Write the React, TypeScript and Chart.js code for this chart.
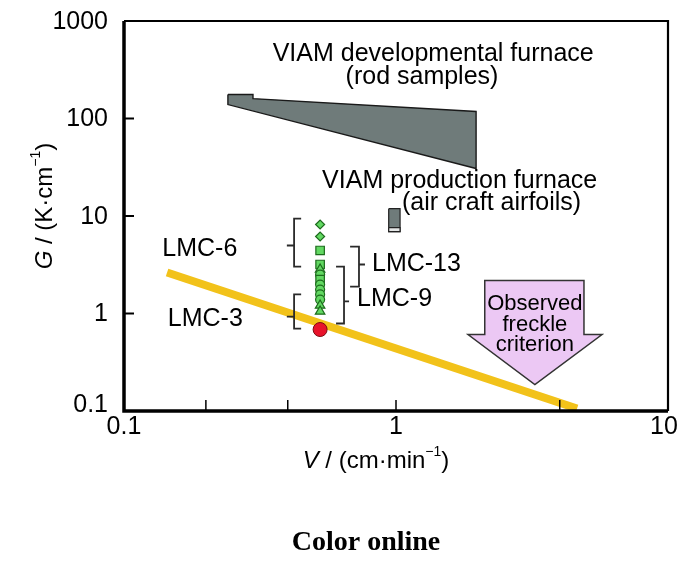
import React, { useEffect, useRef } from "react";
import { Chart, registerables } from "chart.js";
Chart.register(...registerables);

// ---- axis ticks ----
const xTickValues = [0.1, 1, 10];
const xTickLabels = ["0.1", "1", "10"];
const xMinorTicks = [0.2, 0.4, 1, 4];
const yTickValues = [0.1, 1, 10, 100, 1000];
const yTickLabels = ["0.1", "1", "10", "100", "1000"];
const yInnerTicks = [1, 10, 100];

// ---- observed freckle criterion line ----
const criterionV = [0.144, 4.63];
const criterionG = [2.63, 0.106];

// ---- VIAM developmental furnace (rod samples) region ----
const devFurnaceV = [0.241, 0.298, 0.298, 1.97, 1.97, 0.241, 0.241];
const devFurnaceG = [176, 176, 160, 118, 30.7, 139, 176];

// ---- VIAM production furnace (air craft airfoils) region ----
const prodFurnaceV = [0.94, 1.035, 1.035, 0.94, 0.94];
const prodFurnaceG = [11.9, 11.9, 6.9, 6.9, 11.9];
const prodFurnaceLightG = [7.6, 7.6, 6.9, 6.9, 7.6];

// ---- alloy data points ----
const alloyV = 0.526;
const lmcG = [8.18, 6.16, 4.43, 3.18, 2.83, 2.51, 2.23, 1.98, 1.76, 1.57, 1.39, 1.21, 1.05];
const lmcShapes = ["rectRot", "rectRot", "rect", "rect", "triangle", "circle", "rect", "circle", "circle", "circle", "circle", "triangle", "triangle"];
const lmcSizes = [4.5, 4.5, 6, 6, 5.5, 4.5, 6, 4.5, 4.5, 4.5, 4.5, 5.5, 5.5];
const lmc3G = [0.685];

// ---- brackets ----
const bracketLabels = ["LMC-6", "LMC-3", "LMC-13", "LMC-9"];
const bracketEdgeV = [0.448, 0.448, 0.678, 0.602];
const bracketSpineV = [0.422, 0.422, 0.731, 0.644];
const bracketTipV = [0.397, 0.397, 0.769, 0.672];
const bracketLowG = [3.03, 0.70, 1.89, 0.79];
const bracketHighG = [9.42, 1.57, 4.86, 3.03];
const bracketMidG = [4.98, 0.93, 3.18, 1.33];
const bracketLabelV = [0.19, 0.199, 0.816, 0.719];
const bracketLabelG = [4.53, 0.87, 3.18, 1.39];

// ---- arrow (observed freckle criterion) ----
const arrowBodyV = [2.12, 4.91];
const arrowTopG = 2.18;
const arrowShoulderG = 0.609;
const arrowHeadV = [1.84, 5.72];
const arrowTip = [3.24, 0.187];
const arrowText = ["Observed", "freckle", "criterion"];
const arrowTextG = [1.24, 0.771, 0.48];

const SANS = '"Liberation Sans", Arial, sans-serif';

type Part = { t: string; it?: boolean; sup?: boolean };

function drawRich(ctx: CanvasRenderingContext2D, parts: Part[], cx: number, cy: number, size: number) {
  const fontOf = (p: Part) => `${p.it ? "italic " : ""}${p.sup ? Math.round(size * 0.6) : size}px ${SANS}`;
  let total = 0;
  const widths = parts.map((p) => {
    ctx.font = fontOf(p);
    const w = ctx.measureText(p.t).width;
    total += w;
    return w;
  });
  let x = cx - total / 2;
  ctx.textAlign = "left";
  ctx.textBaseline = "middle";
  parts.forEach((p, i) => {
    ctx.font = fontOf(p);
    ctx.fillText(p.t, x, p.sup ? cy - size * 0.35 : cy);
    x += widths[i];
  });
}

const annotPlugin = {
  id: "annot",
  afterDatasetsDraw(chart: any) {
    const { ctx, chartArea: a, scales } = chart;
    const X = (v: number) => scales.x.getPixelForValue(v);
    const Y = (g: number) => scales.y.getPixelForValue(g);
    ctx.save();
    ctx.fillStyle = "#000";
    ctx.strokeStyle = "#000";

    // frame
    ctx.lineWidth = 2.2;
    ctx.beginPath();
    ctx.moveTo(a.left, a.top);
    ctx.lineTo(a.right, a.top);
    ctx.lineTo(a.right, a.bottom);
    ctx.stroke();
    ctx.lineWidth = 3.5;
    ctx.beginPath();
    ctx.moveTo(a.left, a.top);
    ctx.lineTo(a.left, a.bottom);
    ctx.lineTo(a.right, a.bottom);
    ctx.stroke();

    // inner ticks
    ctx.lineWidth = 2;
    yInnerTicks.forEach((g) => {
      ctx.beginPath();
      ctx.moveTo(a.left, Y(g));
      ctx.lineTo(a.left + 10, Y(g));
      ctx.stroke();
    });
    ctx.lineWidth = 1.5;
    xMinorTicks.forEach((v) => {
      ctx.beginPath();
      ctx.moveTo(X(v), a.bottom);
      ctx.lineTo(X(v), a.bottom - 11);
      ctx.stroke();
    });

    // tick labels
    ctx.font = `25px ${SANS}`;
    ctx.textAlign = "right";
    ctx.textBaseline = "middle";
    yTickValues.forEach((g, i) => {
      ctx.fillText(yTickLabels[i], a.left - 16, Y(g) + (g === 0.1 ? -6 : 1));
    });
    ctx.textAlign = "center";
    xTickValues.forEach((v, i) => {
      ctx.fillText(xTickLabels[i], X(v) - (v === 10 ? 4 : 0), a.bottom + 16);
    });

    // axis titles
    drawRich(ctx, [{ t: "V", it: true }, { t: " / (cm·min" }, { t: "−1", sup: true }, { t: ")" }], 376, 461, 24);
    ctx.save();
    ctx.translate(45, 206);
    ctx.rotate(-Math.PI / 2);
    drawRich(ctx, [{ t: "G", it: true }, { t: " / (K·cm" }, { t: "−1", sup: true }, { t: ")" }], 0, 0, 24);
    ctx.restore();

    // furnace labels
    ctx.font = `25px ${SANS}`;
    ctx.textBaseline = "middle";
    ctx.textAlign = "center";
    ctx.fillText("VIAM developmental furnace", X(1.37), Y(453));
    ctx.fillText("(rod samples)", X(1.246), Y(263));
    ctx.textAlign = "left";
    ctx.fillText("VIAM production furnace", X(0.535), Y(22.6));
    ctx.fillText("(air craft airfoils)", X(1.052), Y(13.4));

    // brackets
    ctx.strokeStyle = "#2a2a2a";
    ctx.lineWidth = 1.8;
    bracketLabels.forEach((lab, i) => {
      const e = X(bracketEdgeV[i]);
      const s = X(bracketSpineV[i]);
      const t = X(bracketTipV[i]);
      const lo = Y(bracketLowG[i]);
      const hi = Y(bracketHighG[i]);
      const m = Y(bracketMidG[i]);
      ctx.beginPath();
      ctx.moveTo(e, hi);
      ctx.lineTo(s, hi);
      ctx.lineTo(s, lo);
      ctx.lineTo(e, lo);
      ctx.moveTo(s, m);
      ctx.lineTo(t, m);
      ctx.stroke();
      ctx.fillStyle = "#000";
      ctx.font = `25px ${SANS}`;
      const left = bracketTipV[i] > bracketEdgeV[i];
      ctx.textAlign = left ? "left" : "center";
      ctx.fillText(lab, X(bracketLabelV[i]), Y(bracketLabelG[i]));
    });

    // arrow
    ctx.beginPath();
    ctx.moveTo(X(arrowBodyV[0]), Y(arrowTopG));
    ctx.lineTo(X(arrowBodyV[1]), Y(arrowTopG));
    ctx.lineTo(X(arrowBodyV[1]), Y(arrowShoulderG));
    ctx.lineTo(X(arrowHeadV[1]), Y(arrowShoulderG));
    ctx.lineTo(X(arrowTip[0]), Y(arrowTip[1]));
    ctx.lineTo(X(arrowHeadV[0]), Y(arrowShoulderG));
    ctx.lineTo(X(arrowBodyV[0]), Y(arrowShoulderG));
    ctx.closePath();
    ctx.fillStyle = "#ecc8f4";
    ctx.fill();
    ctx.strokeStyle = "#333";
    ctx.lineWidth = 1.5;
    ctx.stroke();
    ctx.fillStyle = "#000";
    ctx.font = `22px ${SANS}`;
    ctx.textAlign = "center";
    arrowText.forEach((s, i) => ctx.fillText(s, X(arrowTip[0]), Y(arrowTextG[i])));

    // caption
    ctx.font = `bold 28px "Liberation Serif", "Times New Roman", serif`;
    ctx.textAlign = "center";
    ctx.fillText("Color online", 366, 543);
    ctx.restore();
  },
};

export default function App() {
  const ref = useRef<HTMLCanvasElement>(null);
  useEffect(() => {
    const poly = (vs: number[], gs: number[]) => vs.map((v, i) => ({ x: v, y: gs[i] }));
    const chart = new Chart(ref.current!, {
      type: "scatter",
      data: {
        datasets: [
          {
            label: "LMC-3",
            data: lmc3G.map((g) => ({ x: alloyV, y: g })),
            pointStyle: "circle",
            pointRadius: 7,
            backgroundColor: "#e8132b",
            borderColor: "#7a0a10",
            borderWidth: 1,
            order: 0,
          },
          {
            label: "LMC",
            data: lmcG.map((g) => ({ x: alloyV, y: g })),
            pointStyle: lmcShapes as any,
            pointRadius: lmcSizes,
            backgroundColor: "#62d862",
            borderColor: "#1d6b1d",
            borderWidth: 1.2,
            order: 1,
          },
          {
            label: "criterion",
            data: poly(criterionV, criterionG),
            showLine: true,
            pointRadius: 0,
            borderColor: "#f2c21a",
            borderWidth: 8,
            borderCapStyle: "butt",
            order: 2,
          },
          {
            label: "prodLight",
            data: poly(prodFurnaceV, prodFurnaceLightG),
            showLine: true,
            pointRadius: 0,
            fill: "shape",
            backgroundColor: "#e4e6e6",
            borderColor: "#222",
            borderWidth: 1.2,
            order: 3,
          },
          {
            label: "prod",
            data: poly(prodFurnaceV, prodFurnaceG),
            showLine: true,
            pointRadius: 0,
            fill: "shape",
            backgroundColor: "#6f7b7a",
            borderColor: "#222",
            borderWidth: 1.2,
            order: 4,
          },
          {
            label: "dev",
            data: poly(devFurnaceV, devFurnaceG),
            showLine: true,
            pointRadius: 0,
            fill: "shape",
            backgroundColor: "#6f7b7a",
            borderColor: "#1a1a1a",
            borderWidth: 1.4,
            order: 5,
          },
        ] as any,
      },
      options: {
        animation: false,
        responsive: false,
        devicePixelRatio: 1,
        layout: { padding: { left: 124, right: 32, top: 21, bottom: 156 } },
        plugins: { legend: { display: false }, tooltip: { enabled: false } },
        scales: {
          x: { type: "logarithmic", min: 0.1, max: 10, display: false },
          y: { type: "logarithmic", min: 0.1, max: 1000, display: false },
        },
      },
      plugins: [annotPlugin],
    });
    return () => chart.destroy();
  }, []);
  return (
    <div style={{ position: "absolute", left: 0, top: 0, width: 700, height: 567, background: "#fff" }}>
      <canvas ref={ref} width={700} height={567} />
    </div>
  );
}
